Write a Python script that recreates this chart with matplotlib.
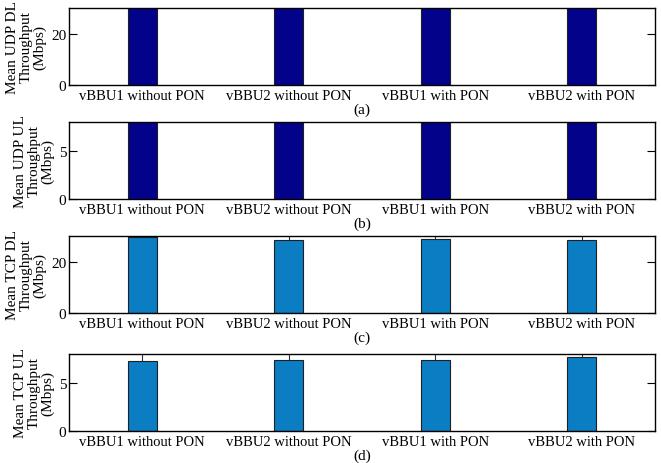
import matplotlib
matplotlib.use("Agg")
import matplotlib.pyplot as plt
import numpy as np

plt.rcParams['font.family'] = ['Liberation Serif', 'DejaVu Serif']

categories = ["vBBU1 without PON", "vBBU2 without PON", "vBBU1 with PON", "vBBU2 with PON"]
udp_dl = [30.0, 30.0, 30.0, 30.0]
udp_ul = [8.0, 8.0, 8.0, 8.0]
tcp_dl = [29.8, 28.6, 29.0, 28.6]
tcp_ul = [7.24, 7.38, 7.38, 7.65]
tcp_dl_err = [1.5, 1.5, 1.5, 1.5]
tcp_ul_err = [0.9, 0.9, 0.9, 0.9]

panels = [
    ("Mean UDP DL\nThroughput\n(Mbps)", udp_dl, None, 30, [0, 20], "#02028a", "(a)"),
    ("Mean UDP UL\nThroughput\n(Mbps)", udp_ul, None, 8, [0, 5], "#02028a", "(b)"),
    ("Mean TCP DL\nThroughput\n(Mbps)", tcp_dl, tcp_dl_err, 30, [0, 20], "#0b7dc3", "(c)"),
    ("Mean TCP UL\nThroughput\n(Mbps)", tcp_ul, tcp_ul_err, 8, [0, 5], "#0b7dc3", "(d)"),
]

W, H = 661, 464
fig = plt.figure(figsize=(W / 100, H / 100), dpi=100)
tops = [9, 123, 237, 355]
axh = 77
left, right = 69, 655

x = np.arange(1, len(categories) + 1)
for (ylab, vals, err, ytop, yt, col, sub), top in zip(panels, tops):
    ax = fig.add_axes([left / W, 1 - (top + axh) / H, (right - left) / W, axh / H])
    ax.bar(x, vals, width=0.2, color=col, edgecolor="#202020", linewidth=0.8, zorder=1)
    if err is not None:
        ax.errorbar(x, vals, yerr=[np.zeros(len(vals)), err], fmt='none',
                    ecolor="#303030", elinewidth=0.8, capsize=0, zorder=2)
    ax.set_xlim(0.5, 4.5)
    ax.set_ylim(0, ytop)
    ax.set_yticks(yt)
    ax.set_xticks(x)
    ax.set_xticklabels(categories, fontsize=10.5)
    ax.tick_params(axis='x', length=0, pad=3)
    ax.tick_params(axis='y', direction='in', right=True, length=6, width=0.8,
                   labelsize=11, pad=2)
    for s in ax.spines.values():
        s.set_linewidth(1.0)
        s.set_color('black')
    ax.set_ylabel(ylab, fontsize=11, labelpad=3, linespacing=1.05)
    ax.set_xlabel(sub, fontsize=11, labelpad=0)

fig.savefig("out.png", dpi=100)
